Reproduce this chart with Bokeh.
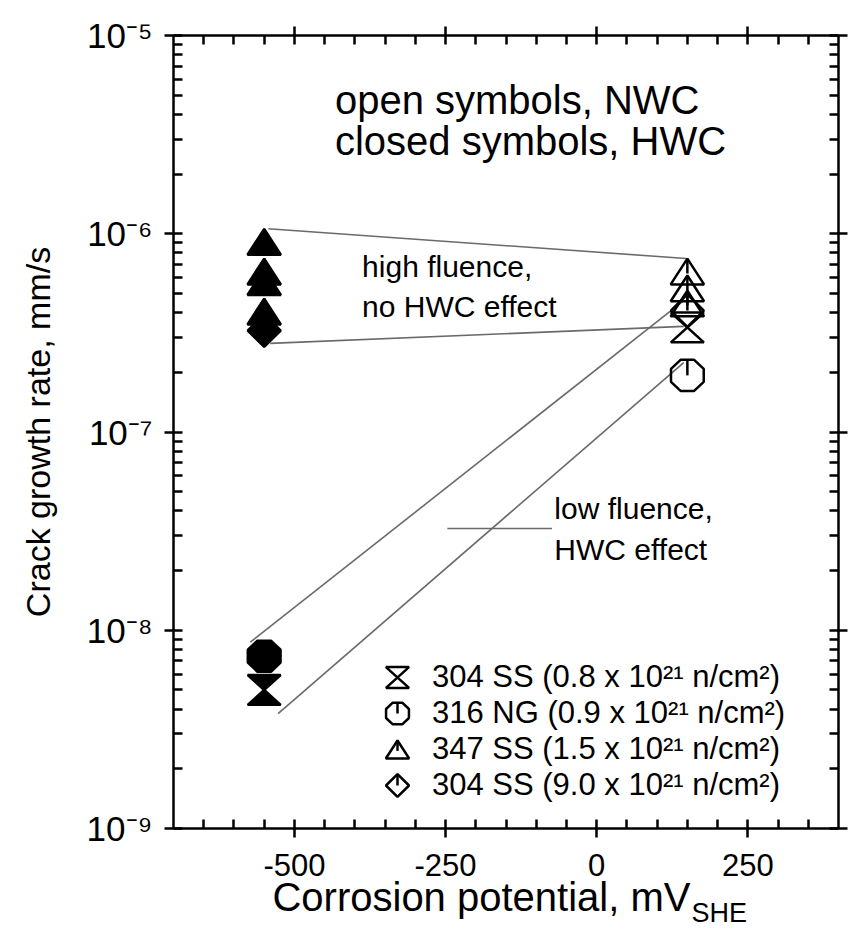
import math
from bokeh.plotting import figure
from bokeh.models import (FixedTicker, LinearAxis, LogAxis, Label, Legend, LegendItem,
                          CustomJS, ColumnDataSource)
from bokeh.core.properties import value
from bokeh.embed import file_html
from bokeh.resources import INLINE

# ---------------- data ----------------
x_lim = (-700, 400)
y_lim = (1e-9, 1e-5)
x_major = [-500, -250, 0, 250]
x_major_labels = ["-500", "-250", "0", "250"]
x_minor = [-650, -600, -550, -450, -400, -350, -300, -200, -150, -100, -50,
           50, 100, 150, 200, 300, 350]
y_major = [1e-9, 1e-8, 1e-7, 1e-6, 1e-5]
y_major_labels = ["10\u207b\u2079", "10\u207b\u2078", "10\u207b\u2077", "10\u207b\u2076", "10\u207b\u2075"]
y_minor = [k * 10.0 ** n for n in range(-9, -5) for k in range(2, 10)]

# 304 SS (0.8 x 10^21 n/cm^2)  -- hourglass
s304a_x = [-550, 150]
s304a_y = [5.0e-9, 3.37e-7]
s304a_hwc = [1, 0]
# 316 NG (0.9 x 10^21 n/cm^2)  -- octagon
s316_x = [-550, 150]
s316_y = [7.4e-9, 1.93e-7]
s316_hwc = [1, 0]
# 347 SS (1.5 x 10^21 n/cm^2)  -- triangle
s347_x = [-550, -550, -550, -550, 150, 150, 150]
s347_y = [9.1e-7, 6.45e-7, 5.7e-7, 4.05e-7, 6.45e-7, 5.3e-7, 4.45e-7]
s347_hwc = [1, 1, 1, 1, 0, 0, 0]
# 304 SS (9.0 x 10^21 n/cm^2)  -- diamond
s304b_x = [-550, 150]
s304b_y = [3.25e-7, 4.1e-7]
s304b_hwc = [1, 0]

legend_labels = ["304 SS (0.8 x 10\u00b2\u00b9 n/cm\u00b2)",
                 "316 NG (0.9 x 10\u00b2\u00b9 n/cm\u00b2)",
                 "347 SS (1.5 x 10\u00b2\u00b9 n/cm\u00b2)",
                 "304 SS (9.0 x 10\u00b2\u00b9 n/cm\u00b2)"]

# band lines
high_upper_x = [-543, 148]; high_upper_y = [1.06e-6, 7.5e-7]
high_lower_x = [-540, 144]; high_lower_y = [2.8e-7, 3.41e-7]
low_upper_x = [-573, 144]; low_upper_y = [8.7e-9, 4.6e-7]
low_lower_x = [-527, 144]; low_lower_y = [3.8e-9, 2.24e-7]
leader_x = [-247, -74]; leader_y = [3.26e-8, 3.26e-8]

# ---------------- figure ----------------
FONT = "Liberation Sans"
FRAME_L, FRAME_W = 173, 665
p = figure(width=848, height=931, x_range=x_lim, y_range=y_lim,
           y_axis_type="log", output_backend="svg", toolbar_location=None,
           min_border_left=173, min_border_right=10, min_border_top=35,
           min_border_bottom=103)
p.outline_line_color = None
p.grid.visible = False
p.background_fill_color = "white"
p.border_fill_color = "white"

xt = FixedTicker(ticks=x_major, minor_ticks=x_minor)
yt = FixedTicker(ticks=y_major, minor_ticks=y_minor)
bottom = p.below[0]
left = p.left[0]
bottom.ticker = xt
left.ticker = yt
top = LinearAxis(ticker=xt)
right = LogAxis(ticker=yt)
p.add_layout(top, "above")
p.add_layout(right, "right")

for ax in [bottom, left, top, right]:
    ax.axis_line_width = 2.5
    ax.axis_line_color = "black"
    ax.major_tick_line_width = 2.5
    ax.minor_tick_line_width = 2.5
    ax.major_tick_line_color = "black"
    ax.minor_tick_line_color = "black"
    ax.major_tick_in = 9
    ax.major_tick_out = 9
    ax.minor_tick_in = 9
    ax.minor_tick_out = 0
for ax in [top, right]:
    ax.major_label_text_font_size = "1px"
    ax.major_label_text_alpha = 0
    ax.major_label_standoff = 0

bottom.major_label_overrides = dict(zip(x_major, x_major_labels))
bottom.major_label_text_font = FONT
bottom.major_label_text_font_size = "31px"
bottom.major_label_text_color = "black"
bottom.major_label_standoff = 16

left.major_label_overrides = dict(zip(y_major, y_major_labels))
left.major_label_text_font = FONT
left.major_label_text_font_size = "35px"
left.major_label_text_color = "black"
left.major_label_standoff = 12

# y axis title through the axis itself
left.axis_label = "Crack growth rate, mm/s"
left.axis_label_text_font = FONT
left.axis_label_text_font_size = "34px"
left.axis_label_text_font_style = "normal"
left.axis_label_text_color = "black"
left.axis_label_standoff = 27


# x axis title: label-only axes, each part of the title set at its own position
def title_axis(text, size, center_px, standoff):
    cx = x_lim[0] + (center_px - FRAME_L) / FRAME_W * (x_lim[1] - x_lim[0])
    ax = LinearAxis(ticker=FixedTicker(ticks=[cx]), major_label_overrides={cx: text},
                    axis_line_color=None, major_tick_line_color=None,
                    minor_tick_line_color=None, major_tick_in=0, major_tick_out=0,
                    minor_tick_in=0, minor_tick_out=0, major_label_standoff=standoff,
                    major_label_text_font=FONT, major_label_text_font_size="%dpx" % size,
                    major_label_text_color="black")
    p.add_layout(ax, "below")


AW = {"C": 722, "o": 556, "r": 333, "s": 500, "i": 222, "n": 556, " ": 278, "p": 556,
      "t": 278, "e": 556, "a": 556, "l": 222, ",": 278, "m": 833, "V": 667,
      "S": 667, "H": 722, "E": 667}
xtitle, xtitle_size, xtitle_left = "Corrosion potential, mV", 40, 272
sub, sub_size = "SHE", 27
w_main = sum(AW[c] for c in xtitle) / 1000.0 * xtitle_size
w_sub = sum(AW[c] for c in sub) / 1000.0 * sub_size
title_axis(xtitle, xtitle_size, xtitle_left + w_main / 2, -4)
title_axis(sub, sub_size, xtitle_left + w_main + 1 + w_sub / 2, -24)

# ---------------- custom markers ----------------
def mk(body):
    return CustomJS(code="export default (args, obj, {ctx, i, r, visuals}) => {\n" + body + "\n}")

hourglass = mk("""
const w = 1.6*r, h = 1.45*r
ctx.moveTo(-w, -h); ctx.lineTo(w, -h); ctx.lineTo(-w, h); ctx.lineTo(w, h); ctx.closePath()
visuals.fill.apply(ctx, i)
visuals.line.apply(ctx, i)
""")
octagon = mk("""
const R = 1.72*r, sy = 0.95, a0 = Math.PI/8
ctx.moveTo(R*Math.cos(a0), sy*R*Math.sin(a0))
for (let k = 1; k < 8; k++) {
  const a = a0 + k*Math.PI/4
  ctx.lineTo(R*Math.cos(a), sy*R*Math.sin(a))
}
ctx.closePath()
visuals.fill.apply(ctx, i)
visuals.line.apply(ctx, i)
ctx.beginPath()
ctx.moveTo(0, -sy*R*Math.cos(a0)); ctx.lineTo(0, 0)
visuals.line.apply(ctx, i)
""")
triangle = mk("""
const w = 1.62*r, h = 1.25*r
ctx.moveTo(0, -h); ctx.lineTo(w, h); ctx.lineTo(-w, h); ctx.closePath()
visuals.fill.apply(ctx, i)
visuals.line.apply(ctx, i)
ctx.beginPath()
ctx.moveTo(0, -h); ctx.lineTo(0, 0.15*h)
visuals.line.apply(ctx, i)
""")
diamond = mk("""
const w = 1.6*r, h = 1.58*r
ctx.moveTo(0, -h); ctx.lineTo(w, 0); ctx.lineTo(0, h); ctx.lineTo(-w, 0); ctx.closePath()
visuals.fill.apply(ctx, i)
visuals.line.apply(ctx, i)
ctx.beginPath()
ctx.moveTo(0, -h); ctx.lineTo(0, 0)
visuals.line.apply(ctx, i)
""")
defs = {"@hourglass": hourglass, "@octagon": octagon, "@triangle": triangle, "@diamond": diamond}

# ---------------- band lines ----------------
for lx, ly in [(high_upper_x, high_upper_y), (high_lower_x, high_lower_y),
               (low_upper_x, low_upper_y), (low_lower_x, low_lower_y),
               (leader_x, leader_y)]:
    p.line(lx, ly, line_color="#6a6a6a", line_width=1.6)

# ---------------- markers ----------------
series = [(s304a_x, s304a_y, s304a_hwc, "@hourglass"),
          (s316_x, s316_y, s316_hwc, "@octagon"),
          (s347_x, s347_y, s347_hwc, "@triangle"),
          (s304b_x, s304b_y, s304b_hwc, "@diamond")]
items = []
for (sx, sy, hwc, mname), lab in zip(series, legend_labels):
    src = ColumnDataSource(dict(x=sx, y=sy, fa=[1.0 if h else 0.0 for h in hwc]))
    r = p.scatter(x="x", y="y", source=src, marker=mname, defs=defs, size=20.6,
                  fill_color="black", fill_alpha="fa", line_color="black", line_width=2.5)
    open_idx = hwc.index(0)
    items.append(LegendItem(label=value(lab), renderers=[r], index=open_idx))

legend = Legend(items=items, location=(206, 25), glyph_width=36, glyph_height=36,
                label_standoff=17, spacing=0, padding=0, margin=0,
                border_line_alpha=0, background_fill_alpha=0,
                label_text_font=FONT, label_text_font_size="31px", label_text_color="black")
p.add_layout(legend)

# ---------------- annotations inside the frame ----------------
notes = [("open symbols, NWC", -433, 4.75e-6, 40),
         ("closed symbols, HWC", -433, 2.92e-6, 40),
         ("high fluence,", -388, 6.87e-7, 30),
         ("no HWC effect", -388, 4.32e-7, 30),
         ("low fluence,", -70, 4.13e-8, 30),
         ("HWC effect", -70, 2.54e-8, 30)]
for t, nx, ny, fs in notes:
    p.add_layout(Label(x=nx, y=ny, text=t, text_align="left", text_baseline="middle",
                       text_font=FONT, text_font_size="%dpx" % fs, text_color="black"))

open("out.html", "w").write(file_html(p, INLINE))
